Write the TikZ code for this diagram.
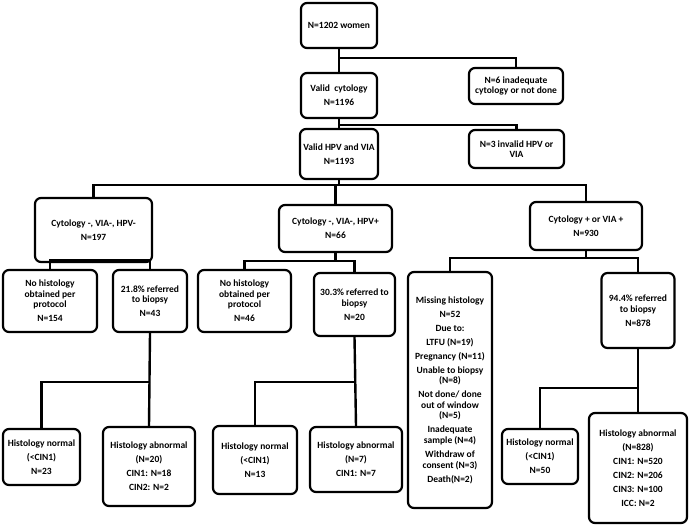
\documentclass[tikz,border=0pt]{standalone}
\usepackage{fontspec}
\setmainfont{Carlito}
\begin{document}
\begin{tikzpicture}[x=1pt,y=-1pt,
  box/.style={draw=black, line width=2.2pt, rounded corners=6pt, align=center,
    inner sep=0pt, font=\bfseries\fontsize{9.5}{10.6}\selectfont},
  conn/.style={draw=black, line width=2.4pt}]
\useasboundingbox[fill=white] (0,0) rectangle (692,528);
\def\p{3.4pt}
% level 0-1
\node[box, minimum width=76pt, minimum height=45pt] (top) at (339,25.5) {N=1202 women};
\node[box, minimum width=76pt, minimum height=45pt] (valid) at (339,95.5) {Valid~ cytology\\[\p]N=1196};
\node[box, minimum width=94pt, minimum height=36pt] (inad) at (516,86) {N=6 inadequate\\cytology or not done};
\node[box, minimum width=78pt, minimum height=50pt] (hpv) at (339,154) {Valid HPV and VIA\\[\p]N=1193};
\node[box, minimum width=95pt, minimum height=38pt] (inv) at (516.5,149) {N=3 invalid HPV or\\VIA};
% level 2
\node[box, minimum width=117pt, minimum height=64pt] (neg) at (93.5,230) {Cytology -, VIA-, HPV-\\[\p]N=197};
\node[box, minimum width=113pt, minimum height=47pt] (hpvpos) at (335.5,228.5) {Cytology -, VIA-, HPV+\\[\p]N=66};
\node[box, minimum width=112pt, minimum height=48pt] (pos) at (586,226) {Cytology + or VIA +\\[\p]N=930};
% level 3
\node[box, minimum width=94pt, minimum height=62pt] (nohistA) at (50,301) {No histology\\obtained per\\protocol\\[\p]N=154};
\node[box, minimum width=74pt, minimum height=62pt] (refA) at (150,301) {21.8\% referred\\to biopsy\\[\p]N=43};
\node[box, minimum width=93pt, minimum height=62pt] (nohistB) at (244.5,301) {No histology\\obtained per\\protocol\\[\p]N=46};
\node[box, minimum width=81pt, minimum height=63pt] (refB) at (354.5,304.5) {30.3\% referred to\\biopsy\\[\p]N=20};
\node[box, minimum width=84pt, minimum height=236pt] (missing) at (450,390) {Missing histology\\[\p]N=52\\[\p]Due to:\\[\p]LTFU (N=19)\\[\p]Pregnancy (N=11)\\[\p]Unable to biopsy\\(N=8)\\[\p]Not done/ done\\out of window\\(N=5)\\[\p]Inadequate\\sample (N=4)\\[\p]Withdraw of\\consent (N=3)\\[\p]Death(N=2)};
\node[box, minimum width=73pt, minimum height=75pt] (refC) at (638,310.5) {94.4\% referred\\to biopsy\\[\p]N=878};
% level 4
\node[box, minimum width=77pt, minimum height=56pt] (hnA) at (41.5,457) {Histology normal\\[\p](<CIN1)\\[\p]N=23};
\node[box, minimum width=92pt, minimum height=79pt] (haA) at (149,466.5) {Histology abnormal\\[\p](N=20)\\[\p]CIN1: N=18\\[\p]CIN2: N=2};
\node[box, minimum width=84pt, minimum height=68pt] (hnB) at (255,460) {Histology normal\\[\p](<CIN1)\\[\p]N=13};
\node[box, minimum width=92pt, minimum height=65pt] (haB) at (356,459.5) {Histology abnormal\\[\p](N=7)\\[\p]CIN1: N=7};
\node[box, minimum width=76pt, minimum height=55pt] (hnC) at (540,456.5) {Histology normal\\[\p](<CIN1)\\[\p]N=50};
\node[box, minimum width=98pt, minimum height=110pt] (haC) at (638,468) {Histology abnormal\\[\p](N=828)\\[\p]CIN1: N=520\\[\p]CIN2: N=206\\[\p]CIN3: N=100\\[\p]ICC: N=2};
% junction levels
\coordinate (j1) at (0,58);
\coordinate (j2) at (0,125);
\coordinate (j3) at (0,185);
\coordinate (j4a) at (0,260);
\coordinate (j4b) at (0,261);
\coordinate (j4c) at (0,258);
\coordinate (j5a) at (0,382);
\coordinate (j5b) at (0,382);
\coordinate (j5c) at (0,388);
% connectors
\draw[conn] (top.south) -- (valid.north);
\draw[conn] (top.south |- j1) -| (inad.north);
\draw[conn] (valid.south) -- (hpv.north);
\draw[conn] (valid.south |- j2) -| (inv.north);
\draw[conn] (hpv.south) -- (hpv.south |- j3);
\draw[conn] (neg.north) |- (j3 -| pos.north) -- (pos.north);
\draw[conn] (hpvpos.north) -- (hpvpos.north |- j3);
\draw[conn] (neg.south) -- (neg.south |- j4a);
\draw[conn] (nohistA.north) |- (j4a -| refA.north) -- (refA.north);
\draw[conn] (hpvpos.south) -- (hpvpos.south |- j4b);
\draw[conn] (nohistB.north) |- (j4b -| refB.north) -- (refB.north);
\draw[conn] (pos.south) -- (pos.south |- j4c);
\draw[conn] (missing.north) |- (j4c -| refC.north) -- (refC.north);
\draw[conn] (refA.south) -- (haA.north);
\draw[conn] (refA.south |- j5a) -| (hnA.north);
\draw[conn] (refB.south) -- (haB.north);
\draw[conn] (refB.south |- j5b) -| (hnB.north);
\draw[conn] (refC.south) -- (haC.north);
\draw[conn] (refC.south |- j5c) -| (hnC.north);
\end{tikzpicture}
\end{document}
